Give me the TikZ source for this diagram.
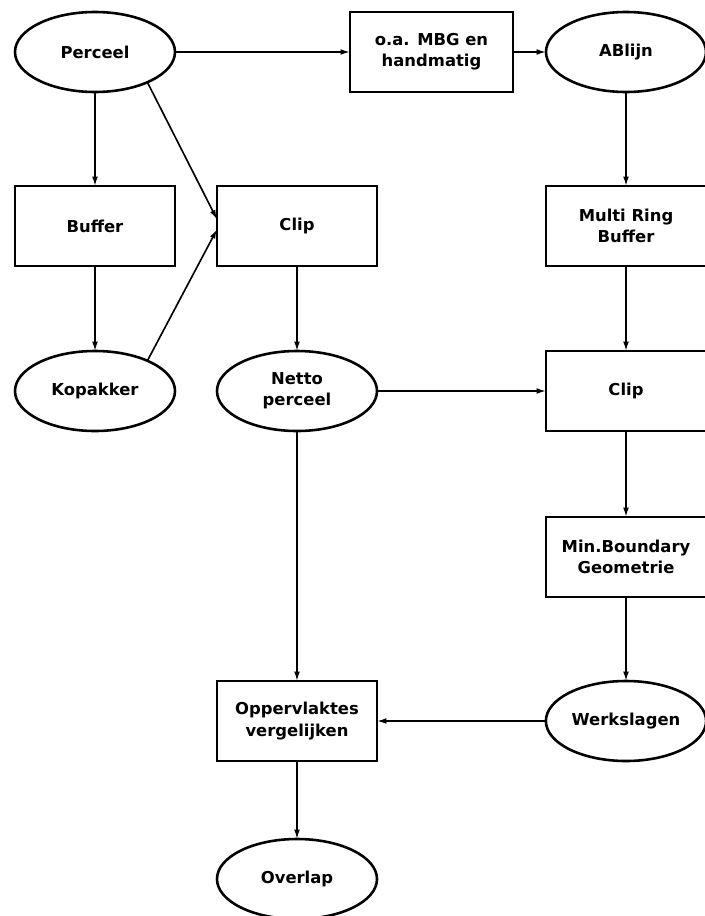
\documentclass[tikz,border=0pt]{standalone}
\usepackage{fontspec}
\setmainfont{DejaVu Sans}
\usepackage{tikz}
\usetikzlibrary{shapes.geometric, arrows.meta, positioning}

\begin{document}
\begin{tikzpicture}[
    every node/.style={font=\bfseries\fontsize{14pt}{18pt}\selectfont, align=center},
    data/.style={ellipse, draw, line width=2.2pt, minimum width=4.8cm, minimum height=2.4cm, inner sep=2pt, outer sep=0pt},
    tool/.style={rectangle, draw, line width=2.2pt, minimum width=4.8cm, minimum height=2.4cm, inner sep=2pt, outer sep=0pt},
    arrow/.style={-{Latex[length=8pt, width=5pt]}, line width=1.4pt}
]

\useasboundingbox (0,0) rectangle (21.12,-27.48);

\node[data] (perceel) at (2.85,-1.56) {Perceel};
\node[tool, minimum width=4.89cm, right=5.25cm of perceel] (mbg) {o.a. MBG en\\handmatig};
\node[data, right=0.99cm of mbg] (ablijn) {ABlijn};

\node[tool, below=2.82cm of perceel] (buffer) {Buffer};
\node[tool, right=1.26cm of buffer] (clipa) {Clip};
\node[tool, below=2.82cm of ablijn] (ringbuf) {Multi Ring\\Buffer};

\node[data, below=2.55cm of buffer] (kopakker) {Kopakker};
\node[data, right=1.26cm of kopakker] (netto) {Netto\\perceel};
\node[tool, below=2.55cm of ringbuf] (clipb) {Clip};

\node[tool, below=2.58cm of clipb] (minbound) {Min.Boundary\\Geometrie};
\node[data, below=2.52cm of minbound] (werkslagen) {Werkslagen};
\node[tool, below=7.5cm of netto] (opp) {Oppervlaktes\\vergelijken};
\node[data, below=2.34cm of opp] (overlap) {Overlap};

\draw[arrow] (perceel) -- (mbg);
\draw[arrow] (mbg) -- (ablijn);
\draw[arrow] (ablijn) -- (ringbuf);
\draw[arrow] (ringbuf) -- (clipb);
\draw[arrow] (perceel) -- (buffer);
\draw[arrow] (buffer) -- (kopakker);
\draw[arrow] (perceel.-30) -- ([yshift=0.2cm]clipa.west);
\draw[arrow] (kopakker.30) -- ([yshift=-0.1cm]clipa.west);
\draw[arrow] (clipa) -- (netto);
\draw[arrow] (netto) -- (clipb);
\draw[arrow] (netto) -- (opp);
\draw[arrow] (clipb) -- (minbound);
\draw[arrow] (minbound) -- (werkslagen);
\draw[arrow] (werkslagen) -- (opp);
\draw[arrow] (opp) -- (overlap);

\end{tikzpicture}
\end{document}
